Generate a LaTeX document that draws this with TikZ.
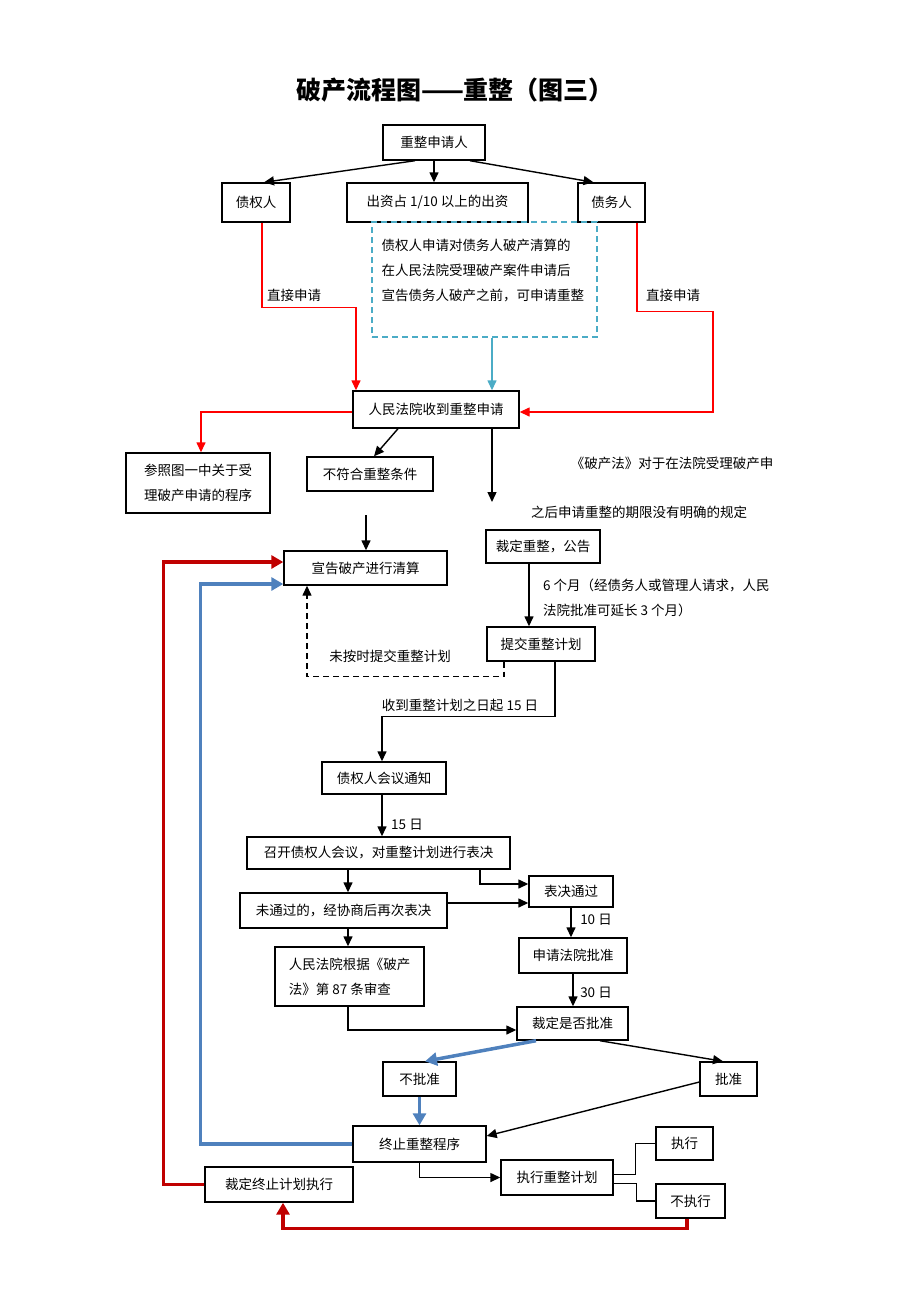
\documentclass[tikz,border=0pt]{standalone}
\usepackage{fontspec}
\setmainfont{Noto Sans CJK SC}
\usetikzlibrary{arrows.meta}
\definecolor{applyred}{HTML}{FF0000}
\definecolor{darkred}{HTML}{C00000}
\definecolor{steelblue}{HTML}{4F81BD}
\definecolor{noteblue}{HTML}{4BACC6}

\begin{document}
\begin{tikzpicture}[x=1pt, y=-1pt, >={Triangle[length=10pt, width=9pt]},
    font=\fontsize{13.5}{25}\selectfont,
    box/.style={draw, line width=1.4pt, inner sep=2pt},
    sz/.style 2 args={minimum width=#1, minimum height=#2},
    flow/.style={line width=1.4pt},
    redflow/.style={draw=applyred, line width=1.4pt, ->},
    redback/.style={draw=darkred, line width=3.5pt, -{Triangle[length=12pt, width=13pt]}},
    blueback/.style={draw=steelblue, line width=3.5pt, -{Triangle[length=12pt, width=13pt]}}]
  \useasboundingbox (0,0) rectangle (920,1302);

  \node (title) at (455,90) {\fontsize{25}{30}\selectfont\bfseries 破产流程图——重整（图三）};

  % applicants
  \node[box, sz={102}{35}] (app) at (434,142.5) {重整申请人};
  \node[box, sz={68}{39}] (cred) at (256,202.5) {债权人};
  \node[box, sz={181}{39}] (share) at (437.5,202.5) {出资占 1/10 以上的出资};
  \node[box, sz={67}{39}] (debt) at (611.5,202.5) {债务人};
  \draw[flow, ->] ([xshift=-19]app.south) -- ([xshift=8]cred.north);
  \draw[flow, ->] (app.south) -- (app.south |- share.north);
  \draw[flow, ->] ([xshift=36]app.south) -- ([xshift=-18]debt.north);

  % note on the time limit
  \node[draw=noteblue, line width=1.4pt, dash pattern=on 6pt off 4pt, sz={225}{115}] (note) at (484.5,279.5) {};
  \node[anchor=north west, align=left, inner sep=2pt] (notetext) at ([shift={(8,16)}]note.north west)
    {债权人申请对债务人破产清算的\\在人民法院受理破产案件申请后\\宣告债务人破产之前，可申请重整};

  % court receives
  \node[box, sz={166}{37}] (court) at (436,409.5) {人民法院收到重整申请};
  \draw[redflow] ([xshift=6]cred.south) -- ++(0,85) -| ([xshift=-80]court.north);
  \node (direct1) at (294,295) {直接申请};
  \draw[redflow] ([xshift=25.5]debt.south) -- ++(0,89) -- ++(76,0) |- ([yshift=-2.5]court.east);
  \node (direct2) at (673,295) {直接申请};
  \draw[draw=noteblue, line width=1.4pt, ->] ([xshift=7.5]note.south) -- ([xshift=7.5]note.south |- court.north);

  \node[box, sz={144}{60}, align=left] (ref) at (198,483) {参照图一中关于受\\理破产申请的程序};
  \node[box, sz={126}{34}] (unfit) at (370,474) {不符合重整条件};
  \draw[redflow] ([yshift=-2.5]court.west) -| ([xshift=3]ref.north);
  \draw[flow, ->] ([xshift=-38]court.south) -- ([xshift=4]unfit.north);
  \coordinate (gap) at (492,502);
  \draw[flow, ->] ([xshift=56]court.south) -- (gap);
  \node (law1) at (672,463) {《破产法》对于在法院受理破产申};
  \node (law2) at (639,512) {之后申请重整的期限没有明确的规定};

  % liquidation and plan
  \node[box, sz={163}{34}] (liq) at (365.5,568) {宣告破产进行清算};
  \coordinate (liqin) at (366,515);
  \draw[flow, ->] (liqin) -- (liqin |- liq.north);
  \node[box, sz={114}{33}] (ruling) at (543,546.5) {裁定重整，公告};
  \node[box, sz={108}{34}] (submit) at (541,644) {提交重整计划};
  \draw[flow, ->] ([xshift=-14]ruling.south) -- ([xshift=-14]ruling.south |- submit.north);
  \node[anchor=north west, align=left, inner sep=0pt] (months) at (543,579)
    {6 个月（经债务人或管理人请求，人民\\法院批准可延长 3 个月）};
  \draw[flow, dash pattern=on 6pt off 4pt, ->] ([xshift=-37]submit.south) -- ++(0,15) -| ([xshift=-58.5]liq.south);
  \node (late) at (390,656) {未按时提交重整计划};

  % creditors meeting
  \node[box, sz={124}{32}] (notice) at (384,778) {债权人会议通知};
  \draw[flow, ->] ([xshift=14]submit.south) -- ++(0,55) -| ([xshift=-2]notice.north);
  \node (days15a) at (460,705) {收到重整计划之日起 15 日};
  \node[box, sz={263}{32}] (meeting) at (378.5,853) {召开债权人会议，对重整计划进行表决};
  \draw[flow, ->] ([xshift=-2]notice.south) -- ([xshift=-2]notice.south |- meeting.north);
  \node (days15b) at (407,825) {15 日};
  \node[box, sz={84}{31}] (passed) at (571,891.5) {表决通过};
  \node[box, sz={207}{35}] (revote) at (343.5,910.5) {未通过的，经协商后再次表决};
  \draw[flow, ->] ([xshift=-30.5]meeting.south) -- ([xshift=-30.5]meeting.south |- revote.north);
  \draw[flow, ->] ([xshift=101.5]meeting.south) |- ([yshift=7.5]passed.west);
  \draw[flow, ->] ([yshift=7.5]revote.east) -- ([yshift=7.5]revote.east -| passed.west);
  \node[box, sz={149}{59}, align=left] (review) at (349.5,976.5) {人民法院根据《破产\\法》第 87 条审查};
  \draw[flow, ->] ([xshift=4.5]revote.south) -- ([xshift=4.5]revote.south |- review.north);

  % court approval
  \node[box, sz={108}{35}] (apply) at (573,955.5) {申请法院批准};
  \node[box, sz={111}{33}] (decide) at (572.5,1023.5) {裁定是否批准};
  \draw[flow, ->] (passed.south) -- (passed.south |- apply.north);
  \node (days10) at (596,920) {10 日};
  \draw[flow, ->] (apply.south) -- (apply.south |- decide.north);
  \node (days30) at (596,993) {30 日};
  \draw[flow, ->] ([xshift=-1.5]review.south) |- ([yshift=-6.5]decide.west);
  \node[box, sz={73}{34}] (reject) at (419.5,1079) {不批准};
  \node[box, sz={57}{34}] (approve) at (728.5,1079) {批准};
  \draw[blueback] ([xshift=-36.5]decide.south) -- ([xshift=5.5]reject.north);
  \draw[flow, ->] ([xshift=27.5]decide.south) -- ([xshift=-5.5]approve.north);

  % termination and execution
  \node[box, sz={133}{36}] (stop) at (419.5,1144) {终止重整程序};
  \node[box, sz={148}{35}] (endexec) at (279,1184.5) {裁定终止计划执行};
  \node[box, sz={112}{35}] (exec) at (557,1177.5) {执行重整计划};
  \node[box, sz={57}{33}] (doexec) at (684.5,1143.5) {执行};
  \node[box, sz={69}{34}] (noexec) at (690.5,1201) {不执行};
  \draw[blueback] (reject.south) -- (reject.south |- stop.north);
  \draw[flow, ->] ([yshift=-3]approve.west) -- ([yshift=8]stop.east);
  \draw[flow, ->] (stop.south) |- (exec.west);
  \draw[flow] ([yshift=3]exec.east) -- ++(22,0) |- (doexec.west);
  \draw[flow] ([yshift=-6]exec.east) -- ++(23,0) |- (noexec.west);
  \draw[redback] ([xshift=-3.5]noexec.south) -- ++(0,10) -| ([xshift=4]endexec.south);

  % back to liquidation
  \draw[blueback] (stop.west) -- ++(-152,0) |- ([yshift=-16]liq.west);
  \draw[redback] (endexec.west) -- ++(-41,0) |- ([yshift=6]liq.west);
\end{tikzpicture}
\end{document}
